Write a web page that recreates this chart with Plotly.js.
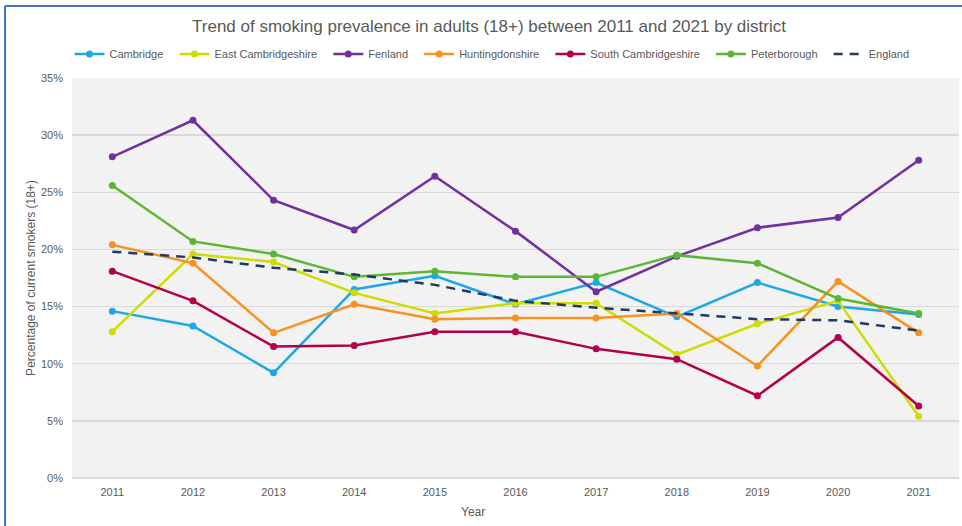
<!DOCTYPE html>
<html>
<head>
<meta charset="utf-8">
<script src="https://cdn.plot.ly/plotly-3.0.1.min.js"></script>
<style>html,body{margin:0;padding:0;background:#fff;}#chart{width:962px;height:526px;}</style>
</head>
<body>
<div id="chart"></div>
<script>
const years = ['2011','2012','2013','2014','2015','2016','2017','2018','2019','2020','2021'];
const cambridge = [14.6, 13.3, 9.2, 16.5, 17.7, 15.2, 17.1, 14.1, 17.1, 15.0, 14.3];
const eastCambridgeshire = [12.8, 19.6, 18.9, 16.2, 14.4, 15.3, 15.3, 10.8, 13.5, 15.5, 5.4];
const fenland = [28.1, 31.3, 24.3, 21.7, 26.4, 21.6, 16.3, 19.4, 21.9, 22.8, 27.8];
const huntingdonshire = [20.4, 18.8, 12.7, 15.2, 13.9, 14.0, 14.0, 14.4, 9.8, 17.2, 12.7];
const southCambridgeshire = [18.1, 15.5, 11.5, 11.6, 12.8, 12.8, 11.3, 10.4, 7.2, 12.3, 6.3];
const peterborough = [25.6, 20.7, 19.6, 17.6, 18.1, 17.6, 17.6, 19.5, 18.8, 15.7, 14.4];
const england = [19.8, 19.3, 18.4, 17.8, 16.9, 15.5, 14.9, 14.4, 13.9, 13.8, 12.9];
const seriesNames = ['Cambridge','East Cambridgeshire','Fenland','Huntingdonshire','South Cambridgeshire','Peterborough','England'];
const seriesValues = [cambridge, eastCambridgeshire, fenland, huntingdonshire, southCambridgeshire, peterborough, england];
const seriesColors = ['#1ea7e6','#cfdc00','#7030a0','#f79221','#b3004b','#5ab633','#203864'];

const pad = '\u00a0\u00a0';
const traces = seriesNames.map((name, i) => {
  const isEng = name === 'England';
  return {
    x: years, y: seriesValues[i], name: isEng ? name : name + pad, type: 'scatter',
    mode: isEng ? 'lines' : 'lines+markers',
    line: {color: seriesColors[i], width: 2.5, dash: isEng ? '9px,7px' : 'solid'},
    marker: {color: seriesColors[i], size: 7}
  };
});

const W = 887, H = 400;
const layout = {
  width: 962, height: 526,
  margin: {l: 72, r: 3, t: 78, b: 48},
  paper_bgcolor: '#ffffff',
  plot_bgcolor: '#f2f2f2',
  font: {family: 'Liberation Sans, Arial, sans-serif', color: '#595959', size: 11},
  title: {text: 'Trend of smoking prevalence in adults (18+) between 2011 and 2021 by district',
          font: {size: 17, color: '#595959'}, x: 489/962, xref: 'container', xanchor: 'center', y: 0.95, yanchor: 'middle'},
  showlegend: true,
  legend: {orientation: 'h', x: (492-72)/W, xanchor: 'center', y: 1.06, yanchor: 'middle',
           font: {size: 11, color: '#595959'}, itemwidth: 30, tracegroupgap: 0, bgcolor: 'rgba(0,0,0,0)'},
  xaxis: {
    type: 'category', range: [-0.5, 10.5], showgrid: false, zeroline: false,
    showline: false, ticks: '', tickfont: {size: 11, color: '#595959'}, ticklabelstandoff: 6
  },
  yaxis: {
    range: [0, 35], dtick: 5, ticksuffix: '%', showgrid: true, gridcolor: '#d9d9d9', gridwidth: 1.5,
    zeroline: true, zerolinecolor: '#d9d9d9', zerolinewidth: 1.5, showline: false,
    tickfont: {size: 11, color: '#595959'}, ticks: '', ticklabelstandoff: 8,
    title: {text: 'Percentage of current smokers (18+)', font: {size: 12, color: '#595959'}, standoff: 2}
  },
  annotations: [
    {text: 'Year', xref: 'paper', yref: 'paper', x: (473-72)/W, y: (478-512)/H, xanchor: 'center', yanchor: 'middle',
     showarrow: false, font: {size: 12, color: '#595959'}}
  ],
  shapes: [
    {type: 'line', xref: 'paper', yref: 'paper', x0: (5-72)/W, x1: (962-72)/W, y0: (478-6)/H, y1: (478-6)/H,
     line: {color: '#4472c4', width: 2}},
    {type: 'line', xref: 'paper', yref: 'paper', x0: (5-72)/W, x1: (5-72)/W, y0: (478-6)/H, y1: (478-530)/H,
     line: {color: '#4472c4', width: 2}}
  ]
};
Plotly.newPlot('chart', traces, layout, {displayModeBar: false, staticPlot: true});
</script>
</body>
</html>
